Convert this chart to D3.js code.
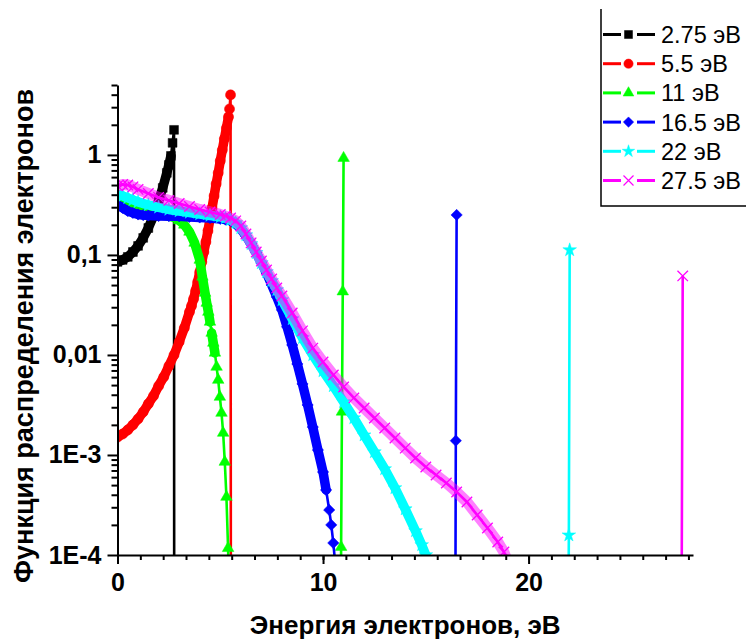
<!DOCTYPE html>
<html>
<head>
<meta charset="utf-8">
<script src="https://cdn.jsdelivr.net/npm/d3@7"></script>
<style>
  body { margin: 0; background: #fff; }
  svg { display: block; font-family: "Liberation Sans", Arial, sans-serif; }
</style>
</head>
<body>
<svg id="chart" width="746" height="641"></svg>
<script>
// Electron energy distribution functions, one curve per injection energy.
const energyTicks = [0, 10, 20];
const fTicks = [1e-4, 1e-3, 0.01, 0.1, 1];
const fTickLabels = ["1E-4", "1E-3", "0,01", "0,1", "1"];
const seriesNames = ["2.75 эВ", "5.5 эВ", "11 эВ", "16.5 эВ", "22 эВ", "27.5 эВ"];
const seriesColors = ["#000000", "#ff0000", "#00ff00", "#0000ff", "#00ffff", "#ff00ff"];

// [energy (eV), distribution function]
const eedf275 = [[0,0.0851],[0.25,0.0891],[0.5,0.0955],[0.75,0.107],[1.0,0.123],[1.25,0.148],
  [1.5,0.186],[1.75,0.245],[2.0,0.347],[2.2,0.468],[2.4,0.661],[2.5,0.794],[2.6,0.977],
  [2.68,1.32],[2.75,1.78],[2.76,1e-6]];

const eedf55 = [[0,0.00151],[0.25,0.00162],[0.5,0.00178],[0.75,0.002],[1.0,0.00229],[1.25,0.00269],
  [1.5,0.00324],[1.75,0.00389],[2.0,0.0049],[2.25,0.00603],[2.5,0.00776],[2.75,0.01],[3.0,0.0135],
  [3.25,0.0186],[3.5,0.0269],[3.6,0.0309],[3.7,0.0363],[3.8,0.0437],[3.9,0.0537],[4.0,0.0676],
  [4.1,0.0851],[4.2,0.107],[4.3,0.135],[4.4,0.174],[4.5,0.229],[4.6,0.295],[4.7,0.389],[4.8,0.513],
  [4.9,0.661],[5.0,0.871],[5.1,1.12],[5.2,1.45],[5.3,1.86],[5.4,2.4],[5.45,2.88],[5.5,3.98],[5.52,1e-6]];

const eedf11 = [[0,0.38],[0.25,0.355],[0.5,0.331],[0.75,0.309],[1.0,0.292],[1.25,0.282],[1.5,0.272],
  [1.75,0.264],[2.0,0.257],[2.25,0.251],[2.5,0.245],[2.75,0.237],[3.0,0.221],[3.25,0.2],[3.5,0.17],
  [3.75,0.132],[4.0,0.0891],[4.13,0.0603],[4.26,0.0417],[4.34,0.0331],[4.42,0.0269],[4.5,0.0214],
  [4.58,0.0166],[4.66,0.0132],[4.74,0.0105],[4.82,0.00759],[4.9,0.00562],[4.98,0.0038],[5.06,0.00263],
  [5.14,0.00166],[5.22,0.000851],[5.3,0.00038],[5.38,0.000117],[5.46,2e-5],[10.84,5e-6],
  [10.88,0.00012],[10.92,0.0027],[10.96,0.043],[11.0,0.93]];

const eedf165 = [[0,0.316],[0.25,0.295],[0.5,0.275],[0.75,0.263],[1.0,0.254],[1.25,0.25],[1.5,0.248],
  [2.0,0.245],[2.5,0.244],[3.0,0.243],[3.5,0.24],[4.0,0.237],[4.5,0.234],[5.0,0.229],[5.25,0.226],
  [5.5,0.219],[5.75,0.204],[6.0,0.182],[6.25,0.155],[6.5,0.129],[6.75,0.105],[7.0,0.0832],
  [7.25,0.0661],[7.5,0.0501],[7.75,0.038],[8.0,0.0282],[8.25,0.0191],[8.5,0.0126],[8.75,0.00813],
  [9.0,0.00513],[9.25,0.00316],[9.5,0.0019],[9.75,0.00112],[10.0,0.000676],[10.15,0.000447],
  [10.3,0.000282],[10.4,0.0002],[10.5,0.000132],[10.6,7.9e-5],[10.7,4.5e-5],[16.42,1e-6],
  [16.46,0.00139],[16.5,0.251]];

const eedf22 = [[0,0.407],[0.25,0.389],[0.5,0.372],[0.75,0.355],[1.0,0.339],[1.5,0.316],[2.0,0.299],
  [2.5,0.285],[3.0,0.275],[3.5,0.266],[4.0,0.257],[4.5,0.248],[5.0,0.24],[5.25,0.234],[5.5,0.224],
  [5.75,0.209],[6.0,0.186],[6.25,0.158],[6.5,0.129],[6.75,0.105],[7.0,0.0832],[7.25,0.0676],
  [7.5,0.055],[7.75,0.0447],[8.0,0.0355],[8.5,0.0229],[9.0,0.0148],[9.5,0.01],[10.0,0.00692],
  [10.5,0.0049],[11.0,0.00339],[11.5,0.00234],[12.0,0.00158],[12.5,0.00107],[13.0,0.000724],
  [13.5,0.000468],[14.0,0.000288],[14.5,0.000174],[14.8,0.000126],[15.0,0.0001],[15.2,7.1e-5],
  [21.9,1e-6],[21.96,0.000158],[22.0,0.112]];

const eedf275b = [[0,0.49],[0.25,0.507],[0.5,0.501],[0.75,0.479],[1.0,0.452],[1.5,0.412],[2.0,0.376],
  [2.5,0.351],[3.0,0.327],[3.5,0.305],[4.0,0.285],[4.5,0.269],[5.0,0.254],[5.25,0.245],[5.5,0.234],
  [5.75,0.219],[6.0,0.195],[6.25,0.162],[6.5,0.132],[6.75,0.107],[7.0,0.0871],[7.25,0.0708],
  [7.5,0.0575],[7.75,0.0468],[8.0,0.0389],[8.5,0.0263],[9.0,0.0174],[9.5,0.0117],[10.0,0.00851],
  [10.5,0.00631],[11.0,0.00479],[11.5,0.00372],[12.0,0.00295],[12.5,0.00234],[13.0,0.00186],
  [13.5,0.00148],[14.0,0.00117],[14.5,0.000933],[15.0,0.000759],[15.5,0.000631],[16.0,0.000525],
  [16.5,0.000427],[17.0,0.000339],[17.5,0.000251],[18.0,0.000186],[18.5,0.000135],[18.8,0.000107],
  [19.0,8.3e-5],[27.42,1e-6],[27.5,0.0617]];

const seriesData = [eedf275, eedf55, eedf11, eedf165, eedf22, eedf275b];

// ---- layout ----
const svg = d3.select("#chart");
const x = d3.scaleLinear().domain([0, 28]).range([117.5, 693]);
const y = d3.scaleLog().domain([1e-4, 5]).range([555, 85]);

// marker shapes
const diamondType = { draw(ctx, size) { const r = Math.sqrt(size / 2);
  ctx.moveTo(0, -r); ctx.lineTo(r, 0); ctx.lineTo(0, r); ctx.lineTo(-r, 0); ctx.closePath(); } };
const crossType = { draw(ctx, size) { const r = Math.sqrt(size) / 2;
  ctx.moveTo(-r, -r); ctx.lineTo(r, r); ctx.moveTo(r, -r); ctx.lineTo(-r, r); } };
const markers = [
  { type: d3.symbolSquare, size: 78, fill: true },
  { type: d3.symbolCircle, size: 80, fill: true },
  { type: d3.symbolTriangle, size: 58, fill: true },
  { type: diamondType, size: 64, fill: true },
  { type: d3.symbolStar, size: 58, fill: true },
  { type: crossType, size: 110, fill: false }
];
const legendMarkerSizes = [64, 68, 50, 54, 48, 100];

svg.append("defs").append("clipPath").attr("id", "plotClip")
  .append("rect").attr("x", x.range()[0]).attr("y", y.range()[1] - 10)
  .attr("width", x.range()[1] - x.range()[0] + 6).attr("height", y.range()[0] - y.range()[1] + 10);

const plot = svg.append("g").attr("clip-path", "url(#plotClip)");
const line = d3.line().x(d => x(d[0])).y(d => y(d[1]));

// Where the curve is gentle, the symbols overlap into a solid band; on steep
// stretches they stand apart. Split each series into its gentle runs.
function gentleRuns(pts, maxPxPerEv) {
  const runs = []; let cur = [pts[0]];
  for (let i = 1; i < pts.length; i++) {
    const dE = pts[i][0] - pts[i - 1][0];
    const dx = x(pts[i][0]) - x(pts[i - 1][0]), dy = y(pts[i][1]) - y(pts[i - 1][1]);
    if (dE > 0 && Math.hypot(dx, dy) / dE <= maxPxPerEv && Math.hypot(dx, dy) < 40) cur.push(pts[i]);
    else { if (cur.length > 1) runs.push(cur); cur = [pts[i]]; }
  }
  if (cur.length > 1) runs.push(cur);
  return runs;
}

seriesData.forEach((pts, i) => {
  const col = seriesColors[i], m = markers[i];
  const g = plot.append("g");
  gentleRuns(pts, 134).forEach(run => {
    g.append("path").attr("d", line(run)).attr("fill", "none")
      .attr("stroke", col).attr("stroke-width", i === 5 ? 11 : 9.5)
      .attr("stroke-opacity", i === 5 ? 0.5 : 1)
      .attr("stroke-linejoin", "round").attr("stroke-linecap", "round");
  });
  g.append("path").attr("d", line(pts)).attr("fill", "none")
    .attr("stroke", col).attr("stroke-width", 2.6);
  const sym = d3.symbol().type(m.type).size(m.size);
  g.selectAll("path.mk").data(pts).join("path").attr("class", "mk")
    .attr("transform", d => `translate(${x(d[0])},${y(d[1])})`)
    .attr("d", sym)
    .attr("fill", m.fill ? col : "none")
    .attr("stroke", col).attr("stroke-width", m.fill ? 0.5 : 1.3);
});

// ---- axes ----
const axisFont = "bold 25px 'Liberation Sans', Arial, sans-serif";

const xMinor = d3.range(0, 28, 10 / 9);
svg.append("g").attr("transform", `translate(0,${y.range()[0]})`)
  .call(d3.axisBottom(x).tickValues(xMinor).tickSize(5).tickSizeOuter(0).tickFormat(""))
  .call(g => g.select(".domain").attr("stroke-width", 2))
  .call(g => g.selectAll(".tick line").attr("stroke-width", 2));
svg.append("g").attr("transform", `translate(0,${y.range()[0]})`)
  .call(d3.axisBottom(x).tickValues(energyTicks).tickSize(9).tickSizeOuter(0).tickPadding(9)
    .tickFormat(d3.format("d")))
  .call(g => g.select(".domain").remove())
  .call(g => g.selectAll(".tick line").attr("stroke-width", 2))
  .call(g => g.selectAll("text").style("font", axisFont).attr("fill", "#000"));

const yMinor = [];
fTicks.forEach(t => { for (let k = 2; k <= 9; k++) { const v = t * k; if (v <= 5.0001) yMinor.push(v); } });
svg.append("g").attr("transform", `translate(${x.range()[0]},0)`)
  .call(d3.axisLeft(y).tickValues(yMinor).tickSize(6).tickSizeOuter(0).tickFormat(""))
  .call(g => g.select(".domain").attr("stroke-width", 2))
  .call(g => g.selectAll(".tick line").attr("stroke-width", 2));
svg.append("g").attr("transform", `translate(${x.range()[0]},0)`)
  .call(d3.axisLeft(y).tickValues(fTicks).tickSize(10).tickSizeOuter(0).tickPadding(6)
    .tickFormat((d, i) => fTickLabels[i]))
  .call(g => g.select(".domain").remove())
  .call(g => g.selectAll(".tick line").attr("stroke-width", 2))
  .call(g => g.selectAll("text").style("font", axisFont).attr("fill", "#000"));

// axis titles
svg.append("text").attr("x", (x.range()[0] + x.range()[1]) / 2).attr("y", 634)
  .attr("text-anchor", "middle").style("font", "bold 26px 'Liberation Sans', Arial, sans-serif")
  .text("Энергия электронов, эВ");
svg.append("text").attr("transform", "translate(33,336) rotate(-90)")
  .attr("text-anchor", "middle").style("font", "bold 27px 'Liberation Sans', Arial, sans-serif")
  .text("Функция распределения электронов");

// ---- legend ----
const lg = svg.append("g");
lg.append("rect").attr("x", 601).attr("y", -4).attr("width", 160).attr("height", 210)
  .attr("fill", "#fff").attr("stroke", "none");
lg.append("path").attr("d", "M601,9V206H746").attr("fill", "none")
  .attr("stroke", "#000").attr("stroke-width", 1.5);
seriesNames.forEach((name, i) => {
  const yy = 34.5 + i * 29.2, col = seriesColors[i], m = markers[i];
  lg.append("line").attr("x1", 603).attr("x2", 621).attr("y1", yy).attr("y2", yy)
    .attr("stroke", col).attr("stroke-width", 3);
  lg.append("line").attr("x1", 637).attr("x2", 655).attr("y1", yy).attr("y2", yy)
    .attr("stroke", col).attr("stroke-width", 3);
  lg.append("path").attr("transform", `translate(628.5,${yy})`)
    .attr("d", d3.symbol().type(m.type).size(legendMarkerSizes[i]))
    .attr("fill", m.fill ? col : "none").attr("stroke", col).attr("stroke-width", m.fill ? 0.5 : 1.2);
  lg.append("text").attr("x", 661).attr("y", yy + 8.5)
    .style("font", "23.5px 'Liberation Sans', Arial, sans-serif").text(name);
});
</script>
</body>
</html>
